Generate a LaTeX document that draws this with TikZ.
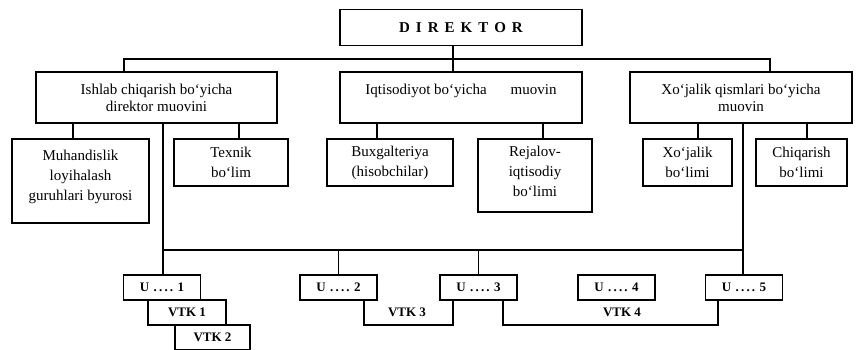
\documentclass[tikz,border=0pt]{standalone}
\usepackage{fontspec}
\setmainfont{Liberation Serif}

\begin{document}
\begin{tikzpicture}[x=1pt,y=-1pt,line width=1.6pt,
		box/.style={draw,align=center,inner sep=0pt,font=\fontsize{15}{17}\selectfont},
		sbox/.style={box,font=\fontsize{15}{20}\selectfont},
		ubox/.style={draw,minimum width=77pt,minimum height=25pt,inner sep=0pt,font=\fontsize{13}{14}\selectfont\bfseries}]
		\useasboundingbox (0,0) rectangle (856,349);
		\node[box,minimum width=242pt,minimum height=36pt] (dir) at(461,27.5){\textbf{D\hspace{6pt}I\hspace{6pt}R\hspace{6pt}E\hspace{6pt}K\hspace{6pt}T\hspace{6pt}O\hspace{6pt}R}};
		\node[box,minimum width=241pt,minimum height=51pt] (dep1) at(156.5,97.5){Ishlab chiqarish bo‘yicha\\direktor muovini};
		\node[box,minimum width=242pt,minimum height=51pt] (dep2) at(461,97.5){Iqtisodiyot bo‘yicha\hspace{1.6em}muovin\\\mbox{}};
		\node[box,minimum width=222pt,minimum height=51pt] (dep3) at(741,97.5){Xo‘jalik qismlari bo‘yicha\\muovin};
		\node[sbox,minimum width=137pt,minimum height=84pt] (muh) at(80.5,181){Muhandislik\\loyihalash\\guruhlari byurosi\\[-8pt]\mbox{}};
		\node[sbox,minimum width=114pt,minimum height=47pt] (tex) at(231,162.5){Texnik\\bo‘lim};
		\node[sbox,minimum width=126pt,minimum height=47pt] (bux) at(390,162.5){Buxgalteriya\\(hisobchilar)};
		\node[sbox,minimum width=114pt,minimum height=73pt] (rej) at(535,175.5){Rejalov-\\iqtisodiy\\bo‘limi\\[-12pt]\mbox{}};
		\node[sbox,minimum width=89pt,minimum height=47pt] (xoj) at(687.5,162.5){Xo‘jalik\\bo‘limi};
		\node[sbox,minimum width=91pt,minimum height=47pt] (chi) at(801.5,162.5){Chiqarish\\bo‘limi};
		\coordinate (t1) at(124,59);
		\coordinate (t2) at(453,59);
		\coordinate (t3) at(770,59);
		\draw (t1 |- dep1.north)--(t1)--(t3)--(t3 |- dep3.north);
		\draw (dir.south -| t2)--(t2 |- dep2.north);
		\foreach \n/\x/\d in{muh/73/dep1,tex/239/dep1,bux/377/dep2,rej/543/dep2,xoj/698/dep3,chi/807/dep3}{
			\draw (\x,0 |- \d.south)--(\x,0 |- \n.north);
		}
		\foreach \i/\x in{1/162,2/338.5,3/478.5,4/616.5,5/744}{
			\node[ubox] (u\i) at(\x,287.5){U\,\,.\,.\,.\,.\,\,\i};
		}
		\node[ubox,minimum width=78pt] (vtk1) at(187,312.5){VTK 1};
		\node[ubox,minimum width=75pt] (vtk2) at(212.5,337.5){VTK 2};
		\coordinate (b1) at(163,250);
		\coordinate (b2) at(743,250);
		\draw (b1 |- dep1.south)--(b1 |- u1.north);
		\draw (b2 |- dep3.south)--(b2 |- u5.north);
		\draw (b1)--(b2);
		\draw (u2.north)--(u2.north |- b1);
		\draw (u3.north)--(u3.north |- b1);
		\coordinate (v3a) at(364,325);
		\coordinate (v3b) at(453,325);
		\coordinate (v4a) at(503,325);
		\coordinate (v4b) at(718,325);
		\draw (v3a |- u2.south)--(v3a)--(v3b)--(v3b |- u3.south);
		\draw (v4a |- u3.south)--(v4a)--(v4b)--(v4b |- u5.south);
		\node[font=\fontsize{13}{14}\selectfont\bfseries] (vtk3) at(407,312){VTK 3};
		\node[font=\fontsize{13}{14}\selectfont\bfseries] (vtk4) at(622,312){VTK 4};
	\end{tikzpicture}
\end{document}
